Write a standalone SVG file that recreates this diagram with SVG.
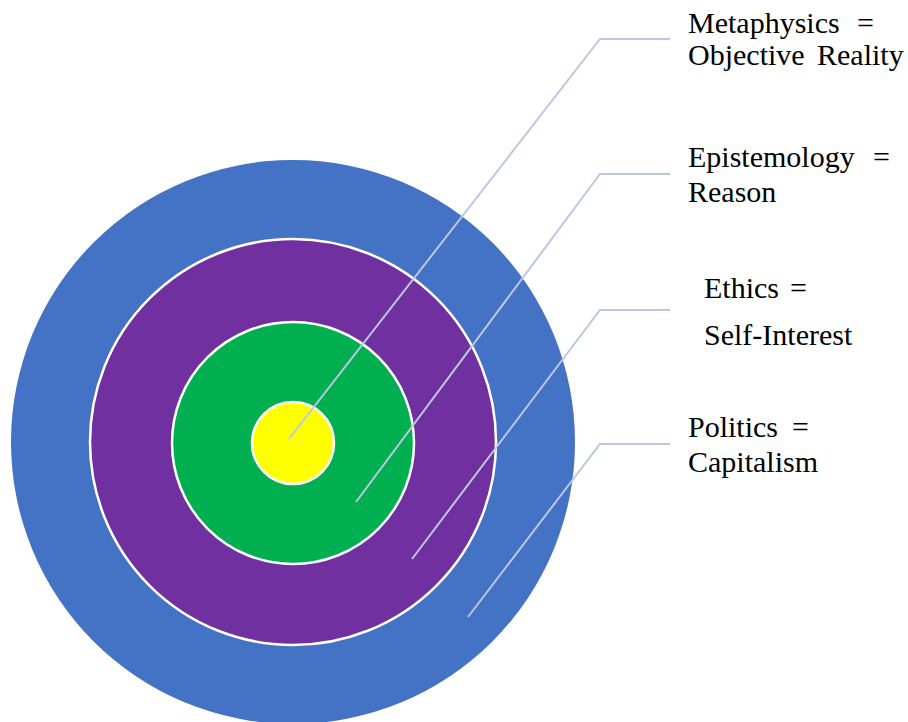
<svg xmlns="http://www.w3.org/2000/svg" width="908" height="722" viewBox="0 0 908 722">
<style>
.ring{stroke:#ffffff;stroke-width:2.5}
.lead{fill:none;stroke:#bcc7e3;stroke-width:2}
.lbl{font-family:"Liberation Serif","Times New Roman",serif;font-size:30px;fill:#000000}
</style>
<rect width="908" height="722" fill="#ffffff"/>
<g id="politics"><circle cx="293" cy="442" r="282" fill="#4472c4"/></g>
<g id="ethics"><circle class="ring" cx="293" cy="442" r="203" fill="#7030a0"/></g>
<g id="epistemology"><circle class="ring" cx="293" cy="443" r="121" fill="#00b050"/></g>
<g id="metaphysics"><circle class="ring" cx="293" cy="443" r="41" fill="#ffff00"/></g>
<g id="connectors">
<polyline class="lead" points="289,439 600,39 670,39"/>
<polyline class="lead" points="356,502 600,174 670,174"/>
<polyline class="lead" points="412,559 600,310 670,310"/>
<polyline class="lead" points="468,617 600,444 670,444"/>
</g>
<g id="label-metaphysics">
<text x="688" y="33" class="lbl">Metaphysics</text><text x="857" y="33" class="lbl">=</text>
<text x="688" y="65" class="lbl">Objective</text><text x="817" y="65" class="lbl">Reality</text>
</g>
<g id="label-epistemology">
<text x="688" y="167" class="lbl">Epistemology</text><text x="873" y="167" class="lbl">=</text>
<text x="688" y="202" class="lbl">Reason</text>
</g>
<g id="label-ethics">
<text x="704" y="298" class="lbl">Ethics</text><text x="790" y="298" class="lbl">=</text>
<text x="704" y="345" class="lbl">Self-Interest</text>
</g>
<g id="label-politics">
<text x="688" y="437" class="lbl">Politics</text><text x="792" y="437" class="lbl">=</text>
<text x="688" y="472" class="lbl">Capitalism</text>
</g>
</svg>
